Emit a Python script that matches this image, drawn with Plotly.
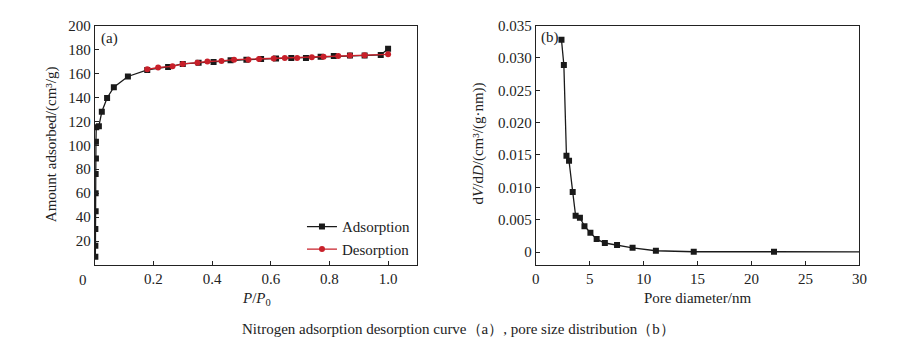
import plotly.graph_objects as go

# ---- data (a) ----
ads_x = [0.002, 0.002, 0.002, 0.003, 0.003, 0.003, 0.004, 0.004, 0.005, 0.014, 0.024, 0.042, 0.065, 0.113,
         0.179, 0.25, 0.30, 0.354, 0.405, 0.463, 0.517, 0.567, 0.618, 0.67, 0.72, 0.77, 0.815, 0.87, 0.92, 0.975, 1.0]
ads_y = [7, 16, 30, 45, 60, 76, 89, 103, 115, 116, 128, 139.5, 148.5, 157.5,
         163, 165.5, 168, 169, 169.5, 171, 171.5, 172, 172.5, 173, 173, 174, 174.5, 175, 175, 175.5, 180.6]
des_x = [1.0, 0.92, 0.87, 0.83, 0.78, 0.74, 0.69, 0.648, 0.61, 0.56, 0.524, 0.475, 0.432, 0.384,
         0.35, 0.30, 0.265, 0.216, 0.179]
des_y = [176, 175.3, 175, 174.6, 174, 173.6, 173, 173, 172.5, 172, 171.5, 171.5, 170.5, 170,
         169, 168, 166, 165, 163.5]

# ---- data (b) ----
pore_d = [2.38, 2.6, 2.84, 3.08, 3.42, 3.69, 4.09, 4.51, 5.06, 5.64, 6.4, 7.53, 8.97, 11.13, 14.64, 22.08, 33.0]
dvdd = [0.0328, 0.0289, 0.0149, 0.0141, 0.0093, 0.0056, 0.0053, 0.0040, 0.0030, 0.0020, 0.0014, 0.0011,
        0.00065, 0.0002, 0.00005, 0.00005, 0.00003]

ax_x_ticks = [0.2, 0.4, 0.6, 0.8, 1.0]
ax_x_text = ["0.2", "0.4", "0.6", "0.8", "1.0"]
ax_y_ticks = [20, 40, 60, 80, 100, 120, 140, 160, 180, 200]
bx_ticks = [0, 5, 10, 15, 20, 25, 30]
by_ticks = [0, 0.005, 0.010, 0.015, 0.020, 0.025, 0.030, 0.035]
by_text = ["0", "0.005", "0.010", "0.015", "0.020", "0.025", "0.030", "0.035"]

BLACK = "#1a1a1a"
RED = "#c8202a"
FONT = "Liberation Serif"
FS = 15

fig = go.Figure()
fig.add_trace(go.Scatter(x=ads_x, y=ads_y, mode="lines+markers", name="Adsorption",
                         line=dict(color=BLACK, width=1.3),
                         marker=dict(symbol="square", size=6, color=BLACK),
                         xaxis="x", yaxis="y"))
fig.add_trace(go.Scatter(x=des_x, y=des_y, mode="lines+markers", name="Desorption",
                         line=dict(color=RED, width=1.3),
                         marker=dict(symbol="circle", size=6, color=RED),
                         xaxis="x", yaxis="y"))
fig.add_trace(go.Scatter(x=pore_d, y=dvdd, mode="lines+markers", showlegend=False,
                         line=dict(color=BLACK, width=1.3),
                         marker=dict(symbol="square", size=6, color=BLACK),
                         xaxis="x2", yaxis="y2"))

W, H = 900, 351
axcommon = dict(showgrid=False, zeroline=False, showline=True, linecolor="#222", linewidth=1,
                mirror=True, ticks="inside", ticklen=4, tickcolor="#222",
                tickfont=dict(family=FONT, size=FS, color="#222"))

ydom = [1 - 263 / H, 1 - 18 / H]
fig.update_layout(
    width=W, height=H, margin=dict(l=0, r=0, t=0, b=0),
    paper_bgcolor="white", plot_bgcolor="white",
    font=dict(family=FONT, size=FS, color="#222"),
    xaxis=dict(domain=[92 / W, 419 / W], range=[0, 1.1], tickvals=ax_x_ticks, ticktext=ax_x_text,
               anchor="y", **axcommon),
    yaxis=dict(domain=ydom, range=[0, 200], tickvals=ax_y_ticks, anchor="x", **axcommon),
    xaxis2=dict(domain=[539 / W, 867 / W], range=[0, 30], tickvals=bx_ticks, anchor="y2", **axcommon),
    yaxis2=dict(domain=ydom, range=[-0.002, 0.035], tickvals=by_ticks, ticktext=by_text,
                anchor="x2", **axcommon),
    legend=dict(x=302 / W, y=1 - 207 / H, xanchor="left", yanchor="top", bgcolor="rgba(0,0,0,0)",
                font=dict(family=FONT, size=FS, color="#222"), tracegroupgap=0, itemwidth=30),
    showlegend=True,
)

ann = [
    dict(x=80 / W, y=1 - 278 / H, text="0", xanchor="center", yanchor="middle"),
    dict(x=96 / W, y=1 - 31 / H, text="(a)", xanchor="left", yanchor="middle"),
    dict(x=542 / W, y=1 - 30 / H, text="(b)", xanchor="left", yanchor="middle"),
    dict(x=48 / W, y=1 - 139 / H, text="Amount adsorbed/(cm³/g)", textangle=-90,
         xanchor="center", yanchor="middle"),
    dict(x=481 / W, y=1 - 139 / H, text="d<i>V</i>/d<i>D</i>/(cm³/(g·nm))", textangle=-90,
         xanchor="center", yanchor="middle"),
    dict(x=256 / W, y=1 - 298 / H, text="<i>P</i>/<i>P</i><sub>0</sub>", xanchor="center", yanchor="middle"),
    dict(x=703 / W, y=1 - 297 / H, text="Pore diameter/nm", xanchor="center", yanchor="middle"),
    dict(x=461 / W, y=1 - 328 / H,
         text="Nitrogen adsorption desorption curve（a）, pore size distribution（b）",
         xanchor="center", yanchor="middle"),
]
for a in ann:
    a.update(xref="paper", yref="paper", showarrow=False, font=dict(family=FONT, size=FS, color="#222"))
fig.update_layout(annotations=ann)

fig.write_html("out.html")
